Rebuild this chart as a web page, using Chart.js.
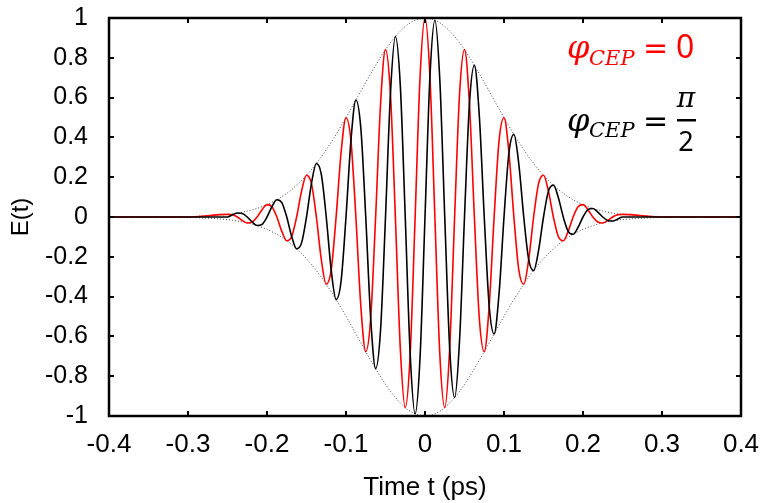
<!DOCTYPE html>
<html>
<head>
<meta charset="utf-8">
<script src="https://cdn.jsdelivr.net/npm/chart.js@4.4.1/dist/chart.umd.min.js"></script>
<style>
  html, body { margin: 0; padding: 0; background: #fff; }
  #wrap { width: 761px; height: 503px; }
</style>
</head>
<body>
<div id="wrap"><canvas id="chart_pulse" width="761" height="503"></canvas></div>
<script>
// time axis (ps), sampled every 1/8 of an optical cycle in the pulse, coarse in the tails
var times = [-0.4, -0.35, -0.3,
  -0.25, -0.24375, -0.2375, -0.23125, -0.225, -0.21875, -0.2125, -0.20625,
  -0.2, -0.19375, -0.1875, -0.18125, -0.175, -0.16875, -0.1625, -0.15625,
  -0.15, -0.14375, -0.1375, -0.13125, -0.125, -0.11875, -0.1125, -0.10625,
  -0.1, -0.09375, -0.0875, -0.08125, -0.075, -0.06875, -0.0625, -0.05625,
  -0.05, -0.04375, -0.0375, -0.03125, -0.025, -0.01875, -0.0125, -0.00625,
  0,
  0.00625, 0.0125, 0.01875, 0.025, 0.03125, 0.0375, 0.04375, 0.05,
  0.05625, 0.0625, 0.06875, 0.075, 0.08125, 0.0875, 0.09375, 0.1,
  0.10625, 0.1125, 0.11875, 0.125, 0.13125, 0.1375, 0.14375, 0.15,
  0.15625, 0.1625, 0.16875, 0.175, 0.18125, 0.1875, 0.19375, 0.2,
  0.20625, 0.2125, 0.21875, 0.225, 0.23125, 0.2375, 0.24375, 0.25,
  0.3, 0.35, 0.4];

// phi_CEP = 0 (red)
var fieldCep0 = [0, 0, 0,
  0.013, 0.011, 0, -0.017, -0.030, -0.025, 0, 0.037,
  0.062, 0.052, 0, -0.072, -0.119, -0.098, 0, 0.130,
  0.210, 0.168, 0, -0.214, -0.338, -0.266, 0, 0.323,
  0.499, 0.384, 0, -0.447, -0.677, -0.509, 0, 0.568,
  0.841, 0.619, 0, -0.660, -0.958, -0.690, 0, 0.705,
  1,
  0.705, 0, -0.690, -0.958, -0.660, 0, 0.619, 0.841,
  0.568, 0, -0.509, -0.677, -0.447, 0, 0.384, 0.499,
  0.323, 0, -0.266, -0.338, -0.214, 0, 0.168, 0.210,
  0.130, 0, -0.098, -0.119, -0.072, 0, 0.052, 0.062,
  0.037, 0, -0.025, -0.030, -0.017, 0, 0.011, 0.013,
  0, 0, 0];

// phi_CEP = pi/2 (black)
var fieldCepHalfPi = [0, 0, 0,
  0, 0.011, 0.020, 0.017, 0, -0.025, -0.043, -0.037,
  0, 0.052, 0.087, 0.072, 0, -0.098, -0.160, -0.130,
  0, 0.168, 0.269, 0.214, 0, -0.266, -0.415, -0.323,
  0, 0.384, 0.588, 0.447, 0, -0.509, -0.762, -0.568,
  0, 0.619, 0.907, 0.660, 0, -0.690, -0.989, -0.705,
  0,
  0.705, 0.989, 0.690, 0, -0.660, -0.907, -0.619, 0,
  0.568, 0.762, 0.509, 0, -0.447, -0.588, -0.384, 0,
  0.323, 0.415, 0.266, 0, -0.214, -0.269, -0.168, 0,
  0.130, 0.160, 0.098, 0, -0.072, -0.087, -0.052, 0,
  0.037, 0.043, 0.025, 0, -0.017, -0.020, -0.011, 0,
  0, 0, 0];

// dotted envelope, upper and lower
var envUpper = [0, 0, 0.002,
  0.013, 0.016, 0.020, 0.024, 0.030, 0.036, 0.043, 0.052,
  0.062, 0.074, 0.087, 0.102, 0.119, 0.138, 0.160, 0.184,
  0.210, 0.238, 0.269, 0.302, 0.338, 0.376, 0.415, 0.457,
  0.499, 0.543, 0.588, 0.632, 0.677, 0.720, 0.762, 0.803,
  0.841, 0.876, 0.907, 0.934, 0.958, 0.976, 0.989, 0.997,
  1,
  0.997, 0.989, 0.976, 0.958, 0.934, 0.907, 0.876, 0.841,
  0.803, 0.762, 0.720, 0.677, 0.632, 0.588, 0.543, 0.499,
  0.457, 0.415, 0.376, 0.338, 0.302, 0.269, 0.238, 0.210,
  0.184, 0.160, 0.138, 0.119, 0.102, 0.087, 0.074, 0.062,
  0.052, 0.043, 0.036, 0.030, 0.024, 0.020, 0.016, 0.013,
  0.002, 0, 0];

var envLower = [0, 0, -0.002,
  -0.013, -0.016, -0.020, -0.024, -0.030, -0.036, -0.043, -0.052,
  -0.062, -0.074, -0.087, -0.102, -0.119, -0.138, -0.160, -0.184,
  -0.210, -0.238, -0.269, -0.302, -0.338, -0.376, -0.415, -0.457,
  -0.499, -0.543, -0.588, -0.632, -0.677, -0.720, -0.762, -0.803,
  -0.841, -0.876, -0.907, -0.934, -0.958, -0.976, -0.989, -0.997,
  -1,
  -0.997, -0.989, -0.976, -0.958, -0.934, -0.907, -0.876, -0.841,
  -0.803, -0.762, -0.720, -0.677, -0.632, -0.588, -0.543, -0.499,
  -0.457, -0.415, -0.376, -0.338, -0.302, -0.269, -0.238, -0.210,
  -0.184, -0.160, -0.138, -0.119, -0.102, -0.087, -0.074, -0.062,
  -0.052, -0.043, -0.036, -0.030, -0.024, -0.020, -0.016, -0.013,
  -0.002, 0, 0];

var xTickLabels = ['-0.4', '-0.3', '-0.2', '-0.1', '0', '0.1', '0.2', '0.3', '0.4'];
var yTickLabels = ['-1', '-0.8', '-0.6', '-0.4', '-0.2', '0', '0.2', '0.4', '0.6', '0.8', '1'];

function toPoints(values) {
    return times.map(function (t, i) { return { x: t, y: values[i] }; });
}

var lineStyle = {
    pointRadius: 0,
    fill: false,
    cubicInterpolationMode: 'monotone'
};

var chart_pulse = new Chart(document.getElementById('chart_pulse'), {
    type: 'line',
    data: {
        datasets: [
            Object.assign({ label: 'CEP pi/2', data: toPoints(fieldCepHalfPi), borderColor: '#000000', borderWidth: 1.6 }, lineStyle),
            Object.assign({ label: 'CEP 0', data: toPoints(fieldCep0), borderColor: '#ff0000', borderWidth: 1.6 }, lineStyle),
            Object.assign({ label: 'envelope+', data: toPoints(envUpper), borderColor: '#444444', borderWidth: 1, borderDash: [1, 2] }, lineStyle),
            Object.assign({ label: 'envelope-', data: toPoints(envLower), borderColor: '#444444', borderWidth: 1, borderDash: [1, 2] }, lineStyle)
        ]
    },
    options: {
        animation: false,
        responsive: false,
        layout: { padding: { top: 18, right: 20, left: 0, bottom: 0 } },
        plugins: {
            legend: { display: false },
            tooltip: { enabled: false }
        },
        scales: {
            x: {
                type: 'linear',
                min: -0.4,
                max: 0.4,
                afterFit: function (s) {
                    s.height = 87;
                    s.paddingLeft = 0; s.paddingRight = 0;
                },
                grid: { display: false, drawTicks: false },
                border: { display: false },
                ticks: {
                    stepSize: 0.1,
                    padding: 13,
                    color: '#000',
                    font: { family: '"Liberation Sans", Arial, sans-serif', size: 26 },
                    maxRotation: 0,
                    autoSkip: false,
                    callback: function (v, i) { return xTickLabels[i]; }
                },
                title: {
                    display: true,
                    text: 'Time t (ps)',
                    color: '#000',
                    padding: { top: 0, bottom: 0 },
                    font: { family: '"Liberation Sans", Arial, sans-serif', size: 26 }
                }
            },
            y: {
                min: -1,
                max: 1,
                afterFit: function (s) {
                    s.width = 109;
                    s.paddingTop = 0; s.paddingBottom = 0;
                },
                grid: { display: false, drawTicks: false },
                border: { display: false },
                ticks: {
                    stepSize: 0.2,
                    padding: 21,
                    color: '#000',
                    font: { family: '"Liberation Sans", Arial, sans-serif', size: 25 },
                    autoSkip: false,
                    callback: function (v, i) { return yTickLabels[i]; }
                },
                title: {
                    display: true,
                    text: 'E(t)',
                    color: '#000',
                    padding: { top: 7, bottom: 0 },
                    font: { family: '"Liberation Sans", Arial, sans-serif', size: 24 }
                }
            }
        }
    },
    plugins: [{
        id: 'frameAndLabels',
        beforeDraw: function (chart) {
            var ctx = chart.ctx;
            ctx.save();
            ctx.fillStyle = 'white';
            ctx.fillRect(0, 0, chart.width, chart.height);
            ctx.restore();
        },
        afterDatasetsDraw: function (chart) {
            var ctx = chart.ctx;
            var a = chart.chartArea;
            var sx = chart.scales.x, sy = chart.scales.y;
            var tick = 5;
            ctx.save();
            ctx.strokeStyle = '#000';
            // inward tick marks on all four sides
            ctx.lineWidth = 2;
            ctx.beginPath();
            sx.ticks.forEach(function (t) {
                var px = Math.round(sx.getPixelForValue(t.value));
                ctx.moveTo(px, a.bottom); ctx.lineTo(px, a.bottom - tick);
                ctx.moveTo(px, a.top); ctx.lineTo(px, a.top + tick);
            });
            sy.ticks.forEach(function (t) {
                var py = Math.round(sy.getPixelForValue(t.value));
                ctx.moveTo(a.left, py); ctx.lineTo(a.left + tick, py);
                ctx.moveTo(a.right, py); ctx.lineTo(a.right - tick, py);
            });
            ctx.stroke();
            // frame
            ctx.lineWidth = 2.5;
            ctx.strokeRect(a.left, a.top, a.right - a.left, a.bottom - a.top);
            ctx.restore();
        },
        afterDraw: function (chart) {
            var ctx = chart.ctx;
            var a = chart.chartArea;
            var x0 = a.right - 174;
            ctx.save();
            ctx.textBaseline = 'alphabetic';
            ctx.textAlign = 'left';
            // red label: phi_CEP = 0
            var y1 = a.top + 40;
            ctx.fillStyle = '#ff0000';
            ctx.font = 'italic 32px "DejaVu Serif"';
            ctx.fillText('\u03C6', x0, y1);
            ctx.font = 'italic 21px "DejaVu Serif"';
            ctx.fillText('CEP', x0 + 22, y1 + 7);
            ctx.font = '30px "DejaVu Sans"';
            ctx.fillText('=', x0 + 76, y1);
            ctx.font = '32px "Noto Sans"';
            ctx.fillText('0', x0 + 109, y1);
            // black label: phi_CEP = pi/2
            var y2 = a.top + 113;
            ctx.fillStyle = '#000000';
            ctx.font = 'italic 32px "DejaVu Serif"';
            ctx.fillText('\u03C6', x0, y2);
            ctx.font = 'italic 21px "DejaVu Serif"';
            ctx.fillText('CEP', x0 + 22, y2 + 6);
            ctx.font = '30px "DejaVu Sans"';
            ctx.fillText('=', x0 + 76, y2);
            ctx.fillRect(x0 + 110, y2 - 12, 19, 2.5);
            ctx.textAlign = 'center';
            ctx.font = 'italic 28px "DejaVu Serif"';
            ctx.fillText('\u03C0', x0 + 119, y2 - 24);
            ctx.font = '27px "Noto Sans"';
            ctx.fillText('2', x0 + 119, y2 + 20);
            ctx.restore();
        }
    }]
});
</script>
</body>
</html>
